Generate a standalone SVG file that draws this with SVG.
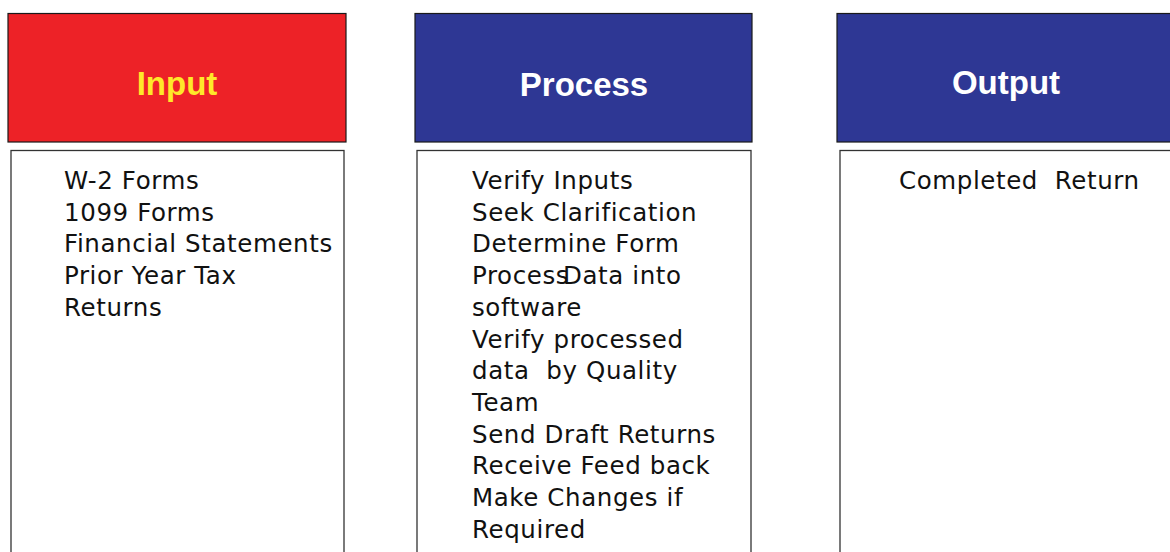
<svg xmlns="http://www.w3.org/2000/svg" width="1170" height="552" viewBox="0 0 1170 552">
<style>
.hdr{stroke:#1a1a1a;stroke-width:1.2}
.box{fill:#fff;stroke:#333;stroke-width:1.3}
.ht{font-family:"Liberation Sans",Arial,sans-serif;font-weight:bold;font-size:33px;text-anchor:middle}
.bt{font-family:"DejaVu Sans","Liberation Sans",sans-serif;font-size:24.5px;letter-spacing:0.6px;fill:#111;white-space:pre}
</style>
<rect width="1170" height="552" fill="#fff"/>
<g id="input">
<rect class="hdr" x="8" y="13.5" width="338" height="128.5" fill="#ED2227"/>
<text class="ht" x="177" y="95" fill="#FFE82A">Input</text>
<rect class="box" x="11" y="150.5" width="333" height="410"/>
<text class="bt"><tspan x="64" y="189">W-2 Forms</tspan><tspan x="64" y="220.7">1099 Forms</tspan><tspan x="64" y="252.4">Financial Statements</tspan><tspan x="64" y="284.1">Prior Year Tax</tspan><tspan x="64" y="315.8">Returns</tspan></text>
</g>
<g id="process">
<rect class="hdr" x="415" y="13.5" width="337" height="128.5" fill="#2E3794"/>
<text class="ht" x="584" y="96" fill="#fff">Process</text>
<rect class="box" x="417" y="150.5" width="334" height="410"/>
<text class="bt"><tspan x="472" y="189">Verify Inputs</tspan><tspan x="472" y="220.7">Seek Clarification</tspan><tspan x="472" y="252.4">Determine Form</tspan><tspan x="472" y="284.1">Process</tspan><tspan x="563" y="284.1">Data into</tspan><tspan x="472" y="315.8">software</tspan><tspan x="472" y="347.5">Verify processed</tspan><tspan x="472" y="379.2">data  by Quality</tspan><tspan x="472" y="410.9">Team</tspan><tspan x="472" y="442.6">Send Draft Returns</tspan><tspan x="472" y="474.3">Receive Feed back</tspan><tspan x="472" y="506">Make Changes if</tspan><tspan x="472" y="537.7">Required</tspan></text>
</g>
<g id="output">
<rect class="hdr" x="837" y="13.5" width="345" height="128.5" fill="#2E3794"/>
<text class="ht" x="1006" y="94" fill="#fff">Output</text>
<rect class="box" x="840" y="150.5" width="345" height="410"/>
<text class="bt" x="899" y="189">Completed  Return</text>
</g>
<g id="connectors"/>
</svg>
